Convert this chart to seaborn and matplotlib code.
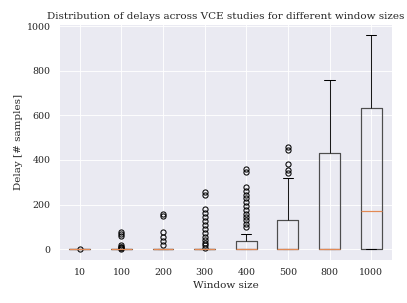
import pandas as pd
import matplotlib
matplotlib.use("Agg")
import matplotlib.pyplot as plt
import seaborn as sns

# window sizes (categories) and delays [# samples] per VCE study
windows = ["10", "100", "200", "300", "400", "500", "800", "1000"]

delays_10 = [0] * 30 + [1]
delays_100 = [0] * 40 + [3, 5, 8, 12, 19, 58, 68, 78]
delays_200 = [0] * 40 + [19, 37, 56, 78, 148, 160]
delays_300 = [0] * 60 + [7, 19, 29, 41, 53, 71, 90, 108, 127, 145, 164, 182, 244, 256]
delays_400 = ([0] * 50 + [5, 8, 10, 12, 15, 18, 20, 25, 28, 32] + [37]
              + [42, 48, 55, 60, 65, 70]
              + [100, 115, 130, 145, 160, 176, 193, 210, 228, 245, 262, 280, 348, 360])
delays_500 = ([0] * 25 + [20, 40, 60, 90, 110] + [133]
              + [160, 200, 240, 280, 318] + [340, 355, 382, 444, 456])
delays_800 = ([0] * 11 + [0, 0, 0, 0, 1, 1, 2, 2, 2] + [3]
              + [10, 30, 60, 100, 150, 200, 260, 320, 380] + [431]
              + [470, 500, 530, 560, 600, 640, 680, 710, 740, 758])
delays_1000 = ([0] * 11 + [10, 20, 35, 50, 70, 90, 110, 130, 150] + [173]
               + [220, 270, 320, 370, 420, 470, 520, 560, 600] + [633]
               + [670, 700, 740, 780, 810, 850, 880, 910, 940, 960])

all_delays = [delays_10, delays_100, delays_200, delays_300,
              delays_400, delays_500, delays_800, delays_1000]

rows = []
for w, d in zip(windows, all_delays):
    for v in d:
        rows.append({"window": w, "delay": v})
df = pd.DataFrame(rows)

sns.set_theme(style="darkgrid")
plt.rcParams["font.family"] = ["DejaVu Serif"]

fig = plt.figure(figsize=(407 / 62, 303 / 62), dpi=62)
ax = fig.add_axes([0.145, 0.142, 0.818, 0.778])

sns.boxplot(data=df, x="window", y="delay", order=windows, ax=ax,
            width=0.5, fill=False, color="black", linewidth=1,
            fliersize=6, capwidths=0.25,
            boxprops=dict(color="#4d4d4d", linewidth=1.4),
            whiskerprops=dict(color="#1a1a1a", linewidth=1.2),
            capprops=dict(color="black", linewidth=1.2),
            medianprops=dict(color="#e38a55", linewidth=1.4, zorder=5),
            flierprops=dict(marker="o", markerfacecolor="none",
                            markeredgecolor="black", markeredgewidth=1.2))

ax.xaxis.grid(True)
ax.set_title("Distribution of delays across VCE studies for different window sizes")
ax.set_xlabel("Window size")
ax.set_ylabel("Delay [# samples]")

fig.savefig("out.png", dpi=62)
